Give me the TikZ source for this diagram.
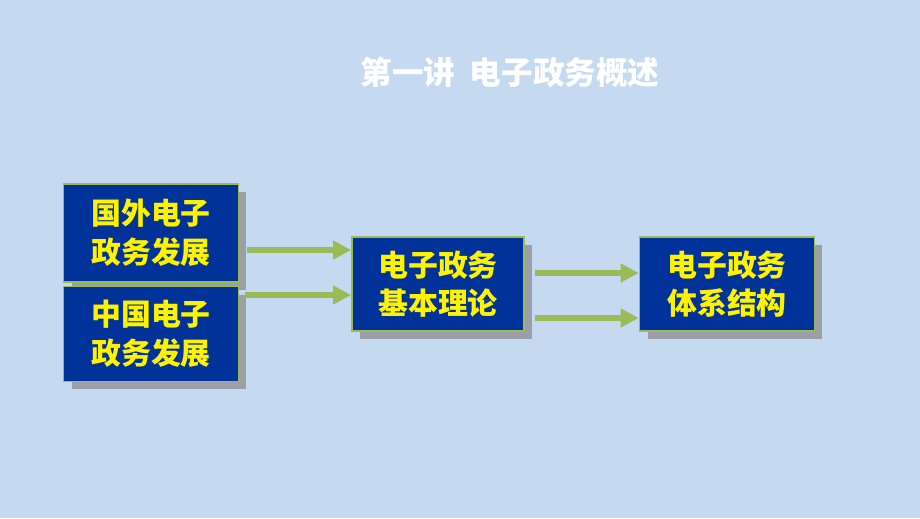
\documentclass[tikz,border=0pt]{standalone}
\usepackage{fontspec}
\newfontfamily\cjk{Noto Sans CJK SC}
\usetikzlibrary{arrows.meta,shadows}
\definecolor{bgblue}{HTML}{C5D9F0}
\definecolor{boxblue}{HTML}{003399}
\definecolor{boxgreen}{HTML}{9BBB59}
\definecolor{shade}{HTML}{9A9FA8}
\begin{document}
\begin{tikzpicture}[x=0.02cm, y=-0.02cm]

\tikzstyle{topic}=[rectangle, draw=boxgreen, line width=1pt, fill=boxblue, text=yellow, font=\cjk\bfseries\fontsize{17}{22}\selectfont, align=center, inner sep=0pt, drop shadow={shadow xshift=0.16cm, shadow yshift=-0.16cm, fill=shade, opacity=1}]
\tikzstyle{flow}=[-{Triangle[length=0.36cm, width=0.36cm]}, draw=boxgreen, line width=0.12cm]

\fill[bgblue] (0,0) rectangle (920,518);

\node (title) at (510,72) [text=white, font=\cjk\bfseries\fontsize{18}{22}\selectfont] {第一讲\ \ 电子政务概述};

\node (b1) [topic, minimum width=3.5cm, minimum height=1.96cm] at (151,233) {国外电子\\政务发展};
\node (b2) [topic, minimum width=3.5cm, minimum height=1.9cm]  at (151,334) {中国电子\\政务发展};
\node (b3) [topic, minimum width=3.44cm, minimum height=1.88cm] at (438,284) {电子政务\\基本理论};
\node (b4) [topic, minimum width=3.5cm, minimum height=1.88cm] at (727,284) {电子政务\\体系结构};

\draw [flow] ([xshift=0.16cm, yshift=-0.34cm]b1.east) -- ([yshift=-0.34cm]b1.east -| b3.west);
\draw [flow] ([xshift=0.12cm, yshift=0.78cm]b2.east) -- ([yshift=0.78cm]b2.east -| b3.west);
\draw [flow] ([xshift=0.2cm, yshift=-0.68cm]b3.east) -- ([yshift=-0.68cm]b4.west);
\draw [flow] ([xshift=0.2cm, yshift=0.22cm]b3.east) -- ([yshift=0.22cm]b4.west);

\end{tikzpicture}
\end{document}
